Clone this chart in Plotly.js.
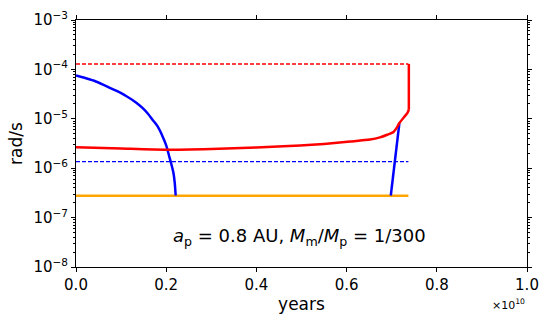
<!DOCTYPE html>
<html>
<head>
<meta charset="utf-8">
<script src="https://cdn.plot.ly/plotly-3.0.1.min.js"></script>
<style>
  html, body { margin: 0; padding: 0; background: #fff; }
  #chart { width: 552px; height: 323px; }
</style>
</head>
<body>
<div id="chart"></div>
<script>
// values (x in units of 1e10 years)
let blueFallX = [0, 0.022, 0.044, 0.067, 0.089, 0.111, 0.133, 0.148, 0.160, 0.170, 0.181, 0.192, 0.200, 0.207, 0.212, 0.216, 0.219, 0.221];
let blueFallY = [7.5e-5, 6.6e-5, 5.7e-5, 4.6e-5, 3.7e-5, 2.9e-5, 2.15e-5, 1.64e-5, 1.25e-5, 9.5e-6, 7.0e-6, 4.4e-6, 2.9e-6, 1.7e-6, 1.15e-6, 8.1e-7, 5.0e-7, 2.8e-7];

let blueRiseX = [0.698, 0.717];
let blueRiseY = [2.8e-7, 8.2e-6];

let redX = [0, 0.1, 0.2, 0.3, 0.4, 0.497, 0.55, 0.608, 0.652, 0.674, 0.69, 0.704, 0.711, 0.717, 0.728, 0.735, 0.738];
let redY = [2.67e-6, 2.5e-6, 2.36e-6, 2.45e-6, 2.62e-6, 2.88e-6, 3.1e-6, 3.47e-6, 3.8e-6, 4.2e-6, 4.75e-6, 5.4e-6, 6.56e-6, 8.2e-6, 1.1e-5, 1.32e-5, 1.52e-5];
let redJumpX = [0.738, 0.738];
let redJumpY = [1.52e-5, 1.29e-4];

let levelX = [0, 0.737];
let redLevel = 1.29e-4;
let blueLevel = 1.36e-6;
let orangeLevel = 2.77e-7;

let yTickExp = [-8, -7, -6, -5, -4, -3];
let xTicks = [0, 0.2, 0.4, 0.6, 0.8, 1.0];

function scaleX(arr) {
    return arr.map(v => v * 1e10);
}

let yTickVals = yTickExp.map(e => Math.pow(10, e));
let yTickText = yTickExp.map(e => '10<sup>\u2212' + Math.abs(e) + '</sup>');
let minorVals = [];
for (let e = -8; e < -3; e++)
    for (let m = 2; m <= 9; m++)
        minorVals.push(m * Math.pow(10, e));

var data = [
    {x: scaleX(levelX), y: [redLevel, redLevel], mode: 'lines',
     line: {color: '#ff0000', width: 1.4, dash: '4px,2px'}},
    {x: scaleX(levelX), y: [blueLevel, blueLevel], mode: 'lines',
     line: {color: '#0000ff', width: 1.4, dash: '4px,2px'}},
    {x: scaleX(levelX), y: [orangeLevel, orangeLevel], mode: 'lines',
     line: {color: '#ffa500', width: 2.5}},
    {x: scaleX(blueFallX), y: blueFallY, mode: 'lines',
     line: {color: '#0000ff', width: 2.5, shape: 'spline', smoothing: 0.6}},
    {x: scaleX(blueRiseX), y: blueRiseY, mode: 'lines', line: {color: '#0000ff', width: 2.5}},
    {x: scaleX(redX), y: redY, mode: 'lines',
     line: {color: '#ff0000', width: 2.5, shape: 'spline', smoothing: 0.6}},
    {x: scaleX(redJumpX), y: redJumpY, mode: 'lines', line: {color: '#ff0000', width: 2.5}}
];

var layout = {
    width: 552,
    height: 323,
    margin: {l: 76, r: 25, t: 20, b: 56},
    showlegend: false,
    paper_bgcolor: '#fff',
    plot_bgcolor: '#fff',
    font: {family: 'DejaVu Sans', size: 15, color: '#000'},
    xaxis: {
        range: [0, 1e10],
        tickmode: 'array',
        tickvals: scaleX(xTicks),
        ticktext: xTicks.map(v => v.toFixed(1)),
        ticks: 'outside', ticklen: 4, tickcolor: '#000',
        showline: true, linecolor: '#000', linewidth: 1, mirror: 'ticks',
        showgrid: false, zeroline: false,
        title: {text: 'years', font: {size: 17}, standoff: 5}
    },
    yaxis: {
        type: 'log',
        range: [-8, -3],
        tickmode: 'array',
        tickvals: yTickVals,
        ticktext: yTickText,
        ticks: 'outside', ticklen: 4, tickcolor: '#000',
        minor: {tickmode: 'array', tickvals: minorVals, ticks: 'outside', ticklen: 2, tickcolor: '#000', showgrid: false},
        showline: true, linecolor: '#000', linewidth: 1, mirror: 'ticks',
        showgrid: false, zeroline: false,
        title: {text: 'rad/s', font: {size: 17}, standoff: 6}
    },
    annotations: [
        {xref: 'paper', yref: 'paper', x: 0.495, y: 0.12, xanchor: 'center', yanchor: 'middle',
         showarrow: false, font: {size: 18},
         text: '<i>a</i><sub>p</sub> = 0.8 AU, <i>M</i><sub>m</sub>/<i>M</i><sub>p</sub> = 1/300'},
        {xref: 'paper', yref: 'paper', x: 1.0, y: -0.115, xanchor: 'right', yanchor: 'top',
         showarrow: false, font: {size: 11},
         text: '\u00d710<sup>10</sup>'}
    ]
};

Plotly.newPlot('chart', data, layout, {staticPlot: true});
</script>
</body>
</html>
